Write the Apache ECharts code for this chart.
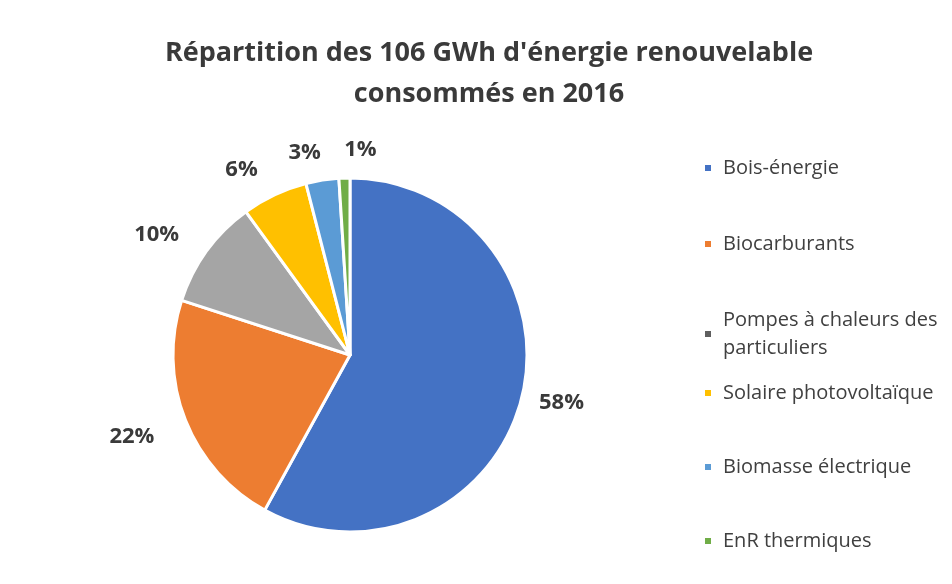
<!DOCTYPE html>
<html>
<head>
<meta charset="utf-8">
<script src="https://cdn.jsdelivr.net/npm/echarts@6/dist/echarts.min.js"></script>
<style>
html, body { margin: 0; padding: 0; background: #fff; }
#main { width: 952px; height: 584px; }
</style>
</head>
<body>
<div id="main"></div>
<script>
// data
var categories = ['Bois-énergie', 'Biocarburants', 'Pompes à chaleurs des particuliers',
	'Solaire photovoltaïque', 'Biomasse électrique', 'EnR thermiques'];
var shares = [58, 22, 10, 6, 3, 1];
var colors = ['#4472C4', '#ED7D31', '#A5A5A5', '#FFC000', '#5B9BD5', '#70AD47'];

var myChart = echarts.init(document.getElementById('main'));

var pieData = categories.map(function (name, i) {
	var item = { name: name, value: shares[i], itemStyle: { color: colors[i] } };
	if (i == 0) {
		item.labelLine = { length: 13 };
	}
	return item;
});

var legendText = {
	fontFamily: 'Open Sans',
	fontSize: 20,
	lineHeight: 28,
	color: '#404040'
};

function legendItem(i) {
	var item = { name: categories[i] };
	if (i == 2) {
		item.itemStyle = { color: '#5f5f5f' };
	}
	return item;
}

myChart.setOption({
	backgroundColor: '#fff',
	title: {
		text: "Répartition des 106 GWh d'énergie renouvelable\nconsommés en 2016",
		left: 484,
		textAlign: 'center',
		top: 28,
		textStyle: {
			fontFamily: 'Open Sans',
			fontWeight: 'bold',
			fontSize: 27,
			lineHeight: 41,
			color: '#3a3a3a'
		}
	},
	legend: [{
		orient: 'vertical',
		left: 703,
		top: 140,
		padding: 0,
		icon: 'rect',
		itemWidth: 8,
		itemHeight: 8,
		itemGap: 20,
		data: [0, 1, 2].map(legendItem),
		formatter: function (name) {
			return name == categories[2] ? 'Pompes à chaleurs des\nparticuliers' : name;
		},
		textStyle: Object.assign({ padding: [28, 0, 0, 6] }, legendText)
	}, {
		orient: 'vertical',
		left: 703,
		top: 379,
		padding: 0,
		icon: 'rect',
		itemWidth: 8,
		itemHeight: 8,
		itemGap: 46,
		data: [3, 4, 5].map(legendItem),
		textStyle: Object.assign({ padding: [0, 0, 0, 6] }, legendText)
	}],
	series: [{
		type: 'pie',
		center: [350, 355],
		radius: 177,
		startAngle: 90,
		clockwise: true,
		avoidLabelOverlap: false,
		// the two small top slices: nudge their labels apart like the original
		labelLayout: function (params) {
			if (params.dataIndex == 5) return { hideOverlap: false, dx: 38 };
			if (params.dataIndex == 4) return { hideOverlap: false, dx: 8 };
			if (params.dataIndex == 1) return { hideOverlap: false, dy: 6 };
			return { hideOverlap: false };
		},
		itemStyle: { borderColor: '#fff', borderWidth: 3 },
		label: {
			show: true,
			position: 'outside',
			formatter: '{c}%',
			fontFamily: 'Open Sans',
			fontWeight: 'bold',
			fontSize: 22,
			color: '#3a3a3a'
		},
		labelLine: { show: false, length: 28, length2: 0 },
		data: pieData
	}]
});
</script>
</body>
</html>
